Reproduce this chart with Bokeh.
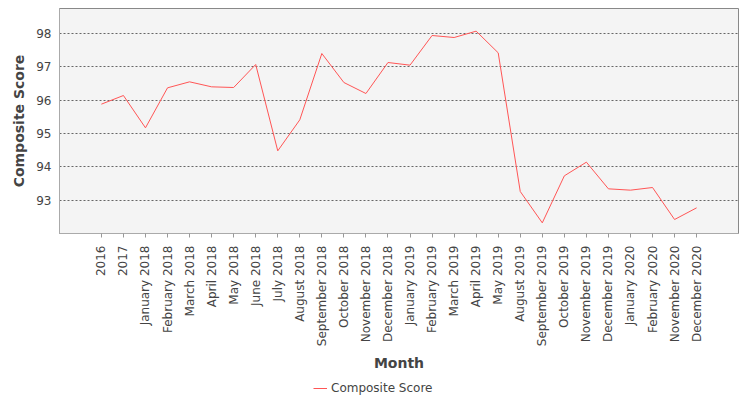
from bokeh.plotting import figure
from bokeh.models import FactorRange, Range1d, FixedTicker, Legend, LegendItem
from bokeh.layouts import column
from bokeh.embed import file_html
from bokeh.resources import INLINE
import math

# data
months = ["2016", "2017", "January 2018", "February 2018", "March 2018",
          "April 2018", "May 2018", "June 2018", "July 2018", "August 2018",
          "September 2018", "October 2018", "November 2018", "December 2018",
          "January 2019", "February 2019", "March 2019", "April 2019",
          "May 2019", "August 2019", "September 2019", "October 2019",
          "November 2019", "December 2019", "January 2020", "February 2020",
          "November 2020", "December 2020"]
scores = [95.88, 96.14, 95.17, 96.37, 96.55, 96.40, 96.38, 97.07, 94.48,
          95.41, 97.40, 96.53, 96.20, 97.13, 97.05, 97.94, 97.88, 98.07,
          97.42, 93.26, 92.32, 93.73, 94.14, 93.34, 93.30, 93.38, 92.42, 92.77]
y_ticks = [93, 94, 95, 96, 97, 98]

FONT = "DejaVu Sans"
LINE_COLOR = "#ff5555"

p = figure(x_range=FactorRange(factors=months, range_padding=1.4,
                               range_padding_units="absolute"),
           y_range=Range1d(92.0, 98.75),
           frame_width=679, frame_height=225,
           min_border_left=59, min_border_right=4, min_border_top=8,
           min_border_bottom=142,
           output_backend="svg", toolbar_location=None)

p.line(months, scores, line_color=LINE_COLOR, line_width=1)

p.background_fill_color = "#f4f4f4"
p.border_fill_color = "white"
p.outline_line_color = "#888888"
p.outline_line_width = 1

p.xgrid.grid_line_color = None
p.ygrid.grid_line_color = "#666666"
p.ygrid.grid_line_dash = "2 2"
p.ygrid.grid_line_width = 1

p.yaxis.ticker = FixedTicker(ticks=y_ticks)
p.yaxis.axis_label = "Composite Score"
p.xaxis.axis_label = "Month"
p.xaxis.major_label_orientation = math.pi / 2

for ax in (p.xaxis, p.yaxis):
    ax.axis_line_color = "#aaaaaa"
    ax.major_label_text_font = FONT
    ax.major_label_text_font_size = "12px"
    ax.major_label_text_color = "#444444"
    ax.axis_label_text_font = FONT
    ax.axis_label_text_font_size = "14px"
    ax.axis_label_text_font_style = "bold"
    ax.axis_label_text_color = "#444444"
    ax.minor_tick_line_color = None

p.yaxis.major_tick_line_color = None
p.yaxis.major_tick_out = 0
p.yaxis.major_label_standoff = 8
p.yaxis.axis_label_standoff = 6
p.xaxis.major_tick_line_color = "#999999"
p.xaxis.major_tick_out = 4
p.xaxis.major_tick_in = 0
p.xaxis.major_label_standoff = 8
p.xaxis.axis_label_standoff = 6

# legend strip: a bare figure under the chart (side-panel legends size badly)
# the series is plotted out of view here so the legend key gets drawn
leg = figure(width=742, height=24, x_axis_location=None, y_axis_location=None,
             x_range=FactorRange(factors=months), y_range=Range1d(0, 1),
             min_border=0, min_border_left=0, min_border_right=0,
             min_border_top=0, min_border_bottom=0,
             output_backend="svg", toolbar_location=None)
leg.outline_line_color = None
leg.grid.grid_line_color = None
key = leg.line(months, scores, line_color=LINE_COLOR, line_width=1)

legend = Legend(items=[LegendItem(label="Composite Score", renderers=[key])],
                orientation="horizontal", location=(252, 2),
                border_line_alpha=0, background_fill_alpha=0,
                label_text_font=FONT, label_text_font_size="12px",
                label_text_color="#444444", glyph_width=14, glyph_height=14,
                label_height=14, label_standoff=4, padding=2, margin=0)
leg.add_layout(legend, "center")

layout = column(p, leg, spacing=0)

open("out.html", "w").write(file_html(layout, INLINE))
